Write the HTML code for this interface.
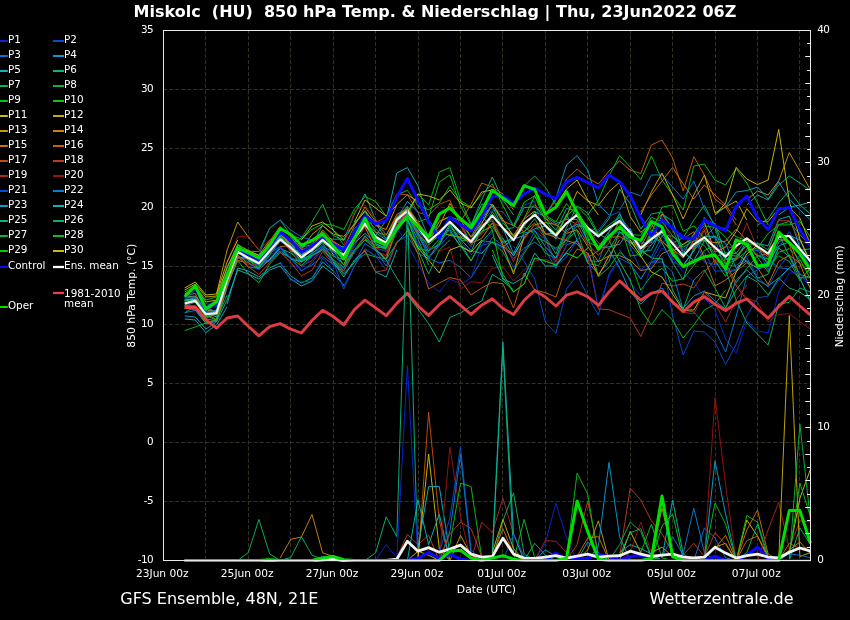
<!DOCTYPE html>
<html lang="de"><head><meta charset="utf-8"><title>Miskolc (HU) 850 hPa Temp. &amp; Niederschlag</title>
<style>html,body{margin:0;padding:0;background:#000;}body{width:850px;height:620px;overflow:hidden;}svg{display:block;}text{font-family:'DejaVu Sans','Liberation Sans',sans-serif;fill:#fff;}.tk{font-size:10.4px;}.yk{font-size:10.4px;letter-spacing:-0.6px;}.xk{font-size:10.65px;}.al{font-size:10.8px;}.ar{font-size:10.65px;}.lg{font-size:10.4px;}.big{font-size:16px;}.ttl{font-size:16px;font-weight:bold;}.m{fill:none;stroke-width:0.95;stroke-linejoin:round;}.p{fill:none;stroke-width:0.95;stroke-linejoin:round;}.th{fill:none;stroke-linejoin:round;stroke-linecap:butt;}.g{stroke:#313124;stroke-width:1;stroke-dasharray:4.05 1.99;fill:none;}</style></head><body>
<svg width="850" height="620" viewBox="0 0 850 620">
<rect x="0" y="0" width="850" height="620" fill="#000"/>
<g class="g">
<line x1="205.5" y1="30.5" x2="205.5" y2="560.5" stroke-dashoffset="0.7"/>
<line x1="248.5" y1="30.5" x2="248.5" y2="560.5" stroke-dashoffset="0.7"/>
<line x1="290.5" y1="30.5" x2="290.5" y2="560.5" stroke-dashoffset="0.7"/>
<line x1="333.5" y1="30.5" x2="333.5" y2="560.5" stroke-dashoffset="0.7"/>
<line x1="375.5" y1="30.5" x2="375.5" y2="560.5" stroke-dashoffset="0.7"/>
<line x1="418.5" y1="30.5" x2="418.5" y2="560.5" stroke-dashoffset="0.7"/>
<line x1="460.5" y1="30.5" x2="460.5" y2="560.5" stroke-dashoffset="0.7"/>
<line x1="502.5" y1="30.5" x2="502.5" y2="560.5" stroke-dashoffset="0.7"/>
<line x1="545.5" y1="30.5" x2="545.5" y2="560.5" stroke-dashoffset="0.7"/>
<line x1="587.5" y1="30.5" x2="587.5" y2="560.5" stroke-dashoffset="0.7"/>
<line x1="630.5" y1="30.5" x2="630.5" y2="560.5" stroke-dashoffset="0.7"/>
<line x1="672.5" y1="30.5" x2="672.5" y2="560.5" stroke-dashoffset="0.7"/>
<line x1="715.5" y1="30.5" x2="715.5" y2="560.5" stroke-dashoffset="0.7"/>
<line x1="757.5" y1="30.5" x2="757.5" y2="560.5" stroke-dashoffset="0.7"/>
<line x1="799.5" y1="30.5" x2="799.5" y2="560.5" stroke-dashoffset="0.7"/>
<line x1="163.5" y1="501.5" x2="810.5" y2="501.5" stroke-dashoffset="0.4"/>
<line x1="163.5" y1="442.5" x2="810.5" y2="442.5" stroke-dashoffset="0.4"/>
<line x1="163.5" y1="383.5" x2="810.5" y2="383.5" stroke-dashoffset="0.4"/>
<line x1="163.5" y1="324.5" x2="810.5" y2="324.5" stroke-dashoffset="0.4"/>
<line x1="163.5" y1="266.5" x2="810.5" y2="266.5" stroke-dashoffset="0.4"/>
<line x1="163.5" y1="207.5" x2="810.5" y2="207.5" stroke-dashoffset="0.4"/>
<line x1="163.5" y1="148.5" x2="810.5" y2="148.5" stroke-dashoffset="0.4"/>
<line x1="163.5" y1="89.5" x2="810.5" y2="89.5" stroke-dashoffset="0.4"/>
</g>
<g class="m">
<polyline stroke="#0a4cd1" points="184.7,300.5 195.3,296.9 205.9,307.1 216.5,306.8 227.1,275.1 237.7,251.4 248.3,253.6 258.9,254.9 269.6,246.1 280.2,236.8 290.8,251.5 301.4,264.9 312.0,256.2 322.6,244.5 333.2,265.2 343.8,268.3 354.4,246.4 365.0,225.2 375.6,238.7 386.2,245.7 396.8,220.6 407.4,211.3 418.0,228.7 428.6,248.4 439.3,245.9 449.9,235.3 460.5,232.4 471.1,247.0 481.7,222.5 492.3,209.9 502.9,211.9 513.5,226.3 524.1,205.2 534.7,201.0 545.3,241.8 555.9,249.7 566.5,243.6 577.1,221.0 587.7,231.1 598.4,245.7 609.0,235.7 619.6,231.9 630.2,243.5 640.8,248.2 651.4,245.1 662.0,228.6 672.6,261.7 683.2,266.5 693.8,261.3 704.4,252.5 715.0,271.0 725.6,270.9 736.2,269.3 746.8,257.5 757.5,276.8 768.1,287.0 778.7,267.4 789.3,254.5 799.9,273.5 810.5,287.9"/>
<polyline stroke="#0a72d1" points="184.7,312.8 195.3,310.3 205.9,323.1 216.5,321.3 227.1,287.7 237.7,257.2 248.3,259.4 258.9,263.1 269.6,252.9 280.2,246.7 290.8,257.7 301.4,270.6 312.0,264.9 322.6,256.3 333.2,264.6 343.8,272.6 354.4,262.7 365.0,243.6 375.6,250.5 386.2,266.0 396.8,241.6 407.4,235.7 418.0,253.5 428.6,258.4 439.3,262.9 449.9,260.3 460.5,267.6 471.1,277.8 481.7,260.3 492.3,237.2 502.9,245.7 513.5,258.5 524.1,248.2 534.7,242.2 545.3,249.9 555.9,268.3 566.5,245.0 577.1,240.7 587.7,260.5 598.4,261.8 609.0,232.6 619.6,215.8 630.2,229.9 640.8,251.1 651.4,257.1 662.0,236.1 672.6,247.3 683.2,265.6 693.8,250.6 704.4,217.0 715.0,238.1 725.6,272.9 736.2,270.2 746.8,248.9 757.5,250.5 768.1,259.2 778.7,267.7 789.3,268.9 799.9,278.0 810.5,302.5"/>
<polyline stroke="#0ab4be" points="184.7,301.2 195.3,297.7 205.9,313.6 216.5,316.8 227.1,285.2 237.7,258.1 248.3,257.9 258.9,261.0 269.6,247.0 280.2,234.1 290.8,245.9 301.4,254.9 312.0,251.4 322.6,242.2 333.2,250.2 343.8,257.4 354.4,243.3 365.0,233.4 375.6,243.7 386.2,248.8 396.8,218.3 407.4,220.0 418.0,244.6 428.6,258.1 439.3,245.2 449.9,226.1 460.5,239.1 471.1,250.6 481.7,253.4 492.3,241.8 502.9,246.9 513.5,239.1 524.1,235.5 534.7,228.8 545.3,226.0 555.9,239.2 566.5,214.1 577.1,240.1 587.7,262.4 598.4,273.9 609.0,261.2 619.6,231.2 630.2,242.2 640.8,243.1 651.4,242.7 662.0,214.1 672.6,221.0 683.2,251.8 693.8,260.6 704.4,241.0 715.0,236.3 725.6,258.6 736.2,258.9 746.8,241.1 757.5,243.5 768.1,245.9 778.7,219.5 789.3,216.1 799.9,247.5 810.5,269.6"/>
<polyline stroke="#0ab47c" points="184.7,312.8 195.3,306.2 205.9,318.4 216.5,313.0 227.1,274.0 237.7,249.0 248.3,260.3 258.9,268.3 269.6,260.4 280.2,248.7 290.8,253.0 301.4,262.5 312.0,252.8 322.6,237.6 333.2,239.2 343.8,239.2 354.4,224.0 365.0,211.6 375.6,223.3 386.2,238.9 396.8,217.3 407.4,211.9 418.0,234.8 428.6,243.9 439.3,221.5 449.9,217.0 460.5,223.5 471.1,243.0 481.7,231.4 492.3,226.2 502.9,243.1 513.5,237.0 524.1,226.3 534.7,211.8 545.3,216.4 555.9,223.6 566.5,219.5 577.1,219.4 587.7,241.2 598.4,232.2 609.0,218.5 619.6,189.3 630.2,203.6 640.8,229.1 651.4,214.0 662.0,212.0 672.6,229.2 683.2,254.2 693.8,234.0 704.4,219.6 715.0,223.8 725.6,255.0 736.2,256.0 746.8,245.6 757.5,254.9 768.1,262.1 778.7,246.1 789.3,241.7 799.9,250.3 810.5,248.8"/>
<polyline stroke="#0ab456" points="184.7,302.0 195.3,299.9 205.9,312.9 216.5,312.3 227.1,280.0 237.7,250.4 248.3,257.6 258.9,264.1 269.6,249.3 280.2,235.1 290.8,240.6 301.4,247.2 312.0,244.8 322.6,225.4 333.2,235.4 343.8,240.6 354.4,222.9 365.0,211.2 375.6,232.4 386.2,240.3 396.8,217.7 407.4,206.2 418.0,222.4 428.6,245.2 439.3,234.2 449.9,216.7 460.5,220.7 471.1,224.8 481.7,204.3 492.3,204.6 502.9,222.6 513.5,235.0 524.1,232.1 534.7,218.6 545.3,236.9 555.9,253.9 566.5,227.4 577.1,205.9 587.7,213.2 598.4,233.7 609.0,239.8 619.6,221.2 630.2,245.0 640.8,257.3 651.4,244.6 662.0,232.4 672.6,242.9 683.2,237.8 693.8,220.0 704.4,205.2 715.0,226.9 725.6,263.3 736.2,282.8 746.8,268.4 757.5,255.7 768.1,259.2 778.7,233.4 789.3,256.4 799.9,274.6 810.5,277.4"/>
<polyline stroke="#0ab439" points="184.7,303.4 195.3,299.3 205.9,312.2 216.5,311.5 227.1,278.5 237.7,249.8 248.3,257.0 258.9,260.4 269.6,245.2 280.2,240.0 290.8,249.8 301.4,261.2 312.0,246.7 322.6,236.4 333.2,249.9 343.8,249.9 354.4,239.4 365.0,222.9 375.6,238.4 386.2,243.9 396.8,222.4 407.4,220.5 418.0,232.8 428.6,257.7 439.3,242.0 449.9,224.2 460.5,240.1 471.1,241.3 481.7,225.3 492.3,220.6 502.9,242.2 513.5,239.2 524.1,227.1 534.7,234.2 545.3,253.3 555.9,258.3 566.5,238.5 577.1,226.0 587.7,227.6 598.4,234.1 609.0,224.8 619.6,217.4 630.2,241.8 640.8,254.8 651.4,230.0 662.0,235.3 672.6,236.1 683.2,245.3 693.8,234.5 704.4,225.9 715.0,227.4 725.6,237.4 736.2,253.3 746.8,238.8 757.5,245.9 768.1,265.9 778.7,255.9 789.3,261.3 799.9,280.7 810.5,268.1"/>
<polyline stroke="#0ac80a" points="184.7,300.8 195.3,302.2 205.9,316.7 216.5,314.6 227.1,281.0 237.7,252.5 248.3,259.5 258.9,267.0 269.6,253.1 280.2,238.1 290.8,243.4 301.4,258.0 312.0,255.8 322.6,249.6 333.2,261.8 343.8,270.6 354.4,252.2 365.0,239.6 375.6,245.3 386.2,249.5 396.8,221.6 407.4,216.7 418.0,228.1 428.6,242.7 439.3,236.1 449.9,234.1 460.5,238.1 471.1,240.1 481.7,232.5 492.3,211.5 502.9,227.9 513.5,235.7 524.1,218.7 534.7,195.8 545.3,215.0 555.9,222.0 566.5,203.6 577.1,216.4 587.7,236.0 598.4,276.7 609.0,267.5 619.6,252.4 630.2,261.3 640.8,290.2 651.4,275.5 662.0,268.3 672.6,281.3 683.2,278.7 693.8,265.6 704.4,250.5 715.0,245.5 725.6,264.4 736.2,259.8 746.8,251.2 757.5,247.9 768.1,233.6 778.7,224.9 789.3,224.9 799.9,221.6 810.5,237.2"/>
<polyline stroke="#c8ab0a" points="184.7,296.7 195.3,296.1 205.9,310.6 216.5,310.5 227.1,273.6 237.7,245.2 248.3,250.3 258.9,255.6 269.6,245.1 280.2,236.3 290.8,251.4 301.4,250.4 312.0,245.2 322.6,234.8 333.2,254.9 343.8,264.9 354.4,238.8 365.0,226.2 375.6,236.1 386.2,247.9 396.8,218.3 407.4,208.7 418.0,223.6 428.6,238.7 439.3,226.0 449.9,203.5 460.5,219.6 471.1,237.4 481.7,223.6 492.3,204.1 502.9,219.3 513.5,237.0 524.1,219.1 534.7,211.0 545.3,234.1 555.9,233.3 566.5,216.4 577.1,191.4 587.7,200.9 598.4,205.5 609.0,191.6 619.6,182.3 630.2,216.6 640.8,232.4 651.4,223.8 662.0,241.3 672.6,251.6 683.2,244.1 693.8,238.6 704.4,222.4 715.0,252.1 725.6,247.2 736.2,231.5 746.8,208.7 757.5,221.8 768.1,221.7 778.7,208.5 789.3,207.7 799.9,218.0 810.5,244.7"/>
<polyline stroke="#c8850a" points="184.7,305.4 195.3,299.5 205.9,313.8 216.5,319.5 227.1,284.1 237.7,253.4 248.3,257.1 258.9,258.7 269.6,243.3 280.2,231.6 290.8,246.6 301.4,256.4 312.0,246.8 322.6,230.0 333.2,241.2 343.8,248.0 354.4,225.8 365.0,207.0 375.6,221.6 386.2,235.1 396.8,216.6 407.4,209.1 418.0,222.9 428.6,240.7 439.3,231.6 449.9,235.6 460.5,237.0 471.1,243.1 481.7,238.5 492.3,223.0 502.9,245.5 513.5,255.3 524.1,237.9 534.7,224.7 545.3,222.6 555.9,224.5 566.5,233.4 577.1,229.6 587.7,246.5 598.4,261.7 609.0,255.8 619.6,255.6 630.2,260.2 640.8,270.5 651.4,268.7 662.0,253.7 672.6,248.8 683.2,258.0 693.8,240.5 704.4,240.8 715.0,242.7 725.6,241.2 736.2,229.1 746.8,240.6 757.5,247.8 768.1,256.7 778.7,239.5 789.3,241.7 799.9,263.9 810.5,289.2"/>
<polyline stroke="#c8720a" points="184.7,295.7 195.3,293.4 205.9,314.6 216.5,313.1 227.1,285.6 237.7,260.6 248.3,262.7 258.9,269.4 269.6,259.5 280.2,246.7 290.8,245.5 301.4,254.3 312.0,246.6 322.6,232.5 333.2,251.3 343.8,256.5 354.4,238.1 365.0,222.6 375.6,232.1 386.2,235.2 396.8,214.3 407.4,208.5 418.0,222.0 428.6,238.3 439.3,221.3 449.9,216.4 460.5,223.7 471.1,236.6 481.7,218.0 492.3,204.3 502.9,221.0 513.5,225.6 524.1,231.7 534.7,223.2 545.3,233.6 555.9,237.5 566.5,240.5 577.1,243.8 587.7,257.6 598.4,250.8 609.0,237.2 619.6,236.7 630.2,242.6 640.8,246.7 651.4,226.7 662.0,214.0 672.6,230.3 683.2,239.1 693.8,231.7 704.4,258.1 715.0,285.8 725.6,280.1 736.2,271.3 746.8,262.7 757.5,267.4 768.1,284.5 778.7,261.4 789.3,255.3 799.9,263.2 810.5,274.0"/>
<polyline stroke="#c84c0a" points="184.7,305.8 195.3,301.7 205.9,312.7 216.5,314.2 227.1,281.3 237.7,256.4 248.3,262.0 258.9,260.3 269.6,250.2 280.2,239.6 290.8,250.1 301.4,254.5 312.0,247.7 322.6,235.1 333.2,241.9 343.8,250.7 354.4,236.5 365.0,217.8 375.6,222.6 386.2,216.9 396.8,193.9 407.4,194.8 418.0,212.3 428.6,215.5 439.3,204.2 449.9,200.1 460.5,225.6 471.1,244.6 481.7,233.8 492.3,223.1 502.9,227.1 513.5,236.5 524.1,218.1 534.7,204.5 545.3,217.8 555.9,226.0 566.5,218.7 577.1,224.5 587.7,244.1 598.4,255.3 609.0,243.0 619.6,220.2 630.2,231.5 640.8,253.9 651.4,234.2 662.0,241.4 672.6,249.7 683.2,266.0 693.8,250.5 704.4,230.2 715.0,264.3 725.6,259.6 736.2,259.1 746.8,244.7 757.5,255.7 768.1,253.9 778.7,233.4 789.3,244.0 799.9,277.6 810.5,277.7"/>
<polyline stroke="#ab2626" points="184.7,301.8 195.3,301.5 205.9,312.6 216.5,313.5 227.1,281.3 237.7,257.5 248.3,264.5 258.9,265.1 269.6,255.2 280.2,239.1 290.8,250.6 301.4,266.3 312.0,260.6 322.6,247.4 333.2,261.6 343.8,267.6 354.4,243.6 365.0,227.0 375.6,247.8 386.2,251.5 396.8,228.8 407.4,217.2 418.0,222.2 428.6,235.5 439.3,230.0 449.9,221.6 460.5,232.0 471.1,226.9 481.7,224.6 492.3,219.0 502.9,239.8 513.5,261.7 524.1,239.5 534.7,225.0 545.3,238.1 555.9,261.9 566.5,232.5 577.1,221.7 587.7,228.3 598.4,242.9 609.0,248.9 619.6,237.5 630.2,235.6 640.8,252.7 651.4,240.8 662.0,217.7 672.6,242.3 683.2,250.3 693.8,248.0 704.4,227.6 715.0,251.9 725.6,246.1 736.2,249.2 746.8,222.9 757.5,248.9 768.1,253.0 778.7,220.6 789.3,220.7 799.9,240.6 810.5,244.6"/>
<polyline stroke="#0a4cd1" points="184.7,300.7 195.3,289.9 205.9,303.6 216.5,305.2 227.1,273.0 237.7,249.2 248.3,253.4 258.9,268.2 269.6,258.4 280.2,247.2 290.8,258.7 301.4,271.2 312.0,262.8 322.6,248.8 333.2,261.9 343.8,268.8 354.4,241.2 365.0,220.7 375.6,236.7 386.2,243.6 396.8,222.3 407.4,216.9 418.0,232.8 428.6,257.7 439.3,243.0 449.9,228.5 460.5,241.0 471.1,254.7 481.7,245.4 492.3,242.5 502.9,248.2 513.5,267.5 524.1,251.5 534.7,231.2 545.3,239.1 555.9,265.7 566.5,257.1 577.1,240.5 587.7,228.6 598.4,230.2 609.0,216.1 619.6,211.7 630.2,247.8 640.8,269.7 651.4,261.3 662.0,241.3 672.6,239.8 683.2,250.7 693.8,235.3 704.4,262.2 715.0,264.7 725.6,265.2 736.2,265.6 746.8,256.4 757.5,249.0 768.1,270.0 778.7,247.8 789.3,231.6 799.9,249.0 810.5,266.8"/>
<polyline stroke="#0aa2c8" points="184.7,304.2 195.3,299.1 205.9,306.9 216.5,300.2 227.1,267.1 237.7,244.6 248.3,255.0 258.9,265.6 269.6,260.0 280.2,247.6 290.8,259.1 301.4,261.7 312.0,256.8 322.6,248.0 333.2,256.2 343.8,259.7 354.4,237.1 365.0,223.7 375.6,243.9 386.2,247.6 396.8,227.5 407.4,214.0 418.0,231.2 428.6,240.1 439.3,234.1 449.9,222.2 460.5,235.7 471.1,240.8 481.7,219.1 492.3,206.0 502.9,228.2 513.5,253.4 524.1,233.0 534.7,230.6 545.3,246.6 555.9,258.0 566.5,230.0 577.1,224.4 587.7,228.0 598.4,248.3 609.0,246.7 619.6,244.3 630.2,228.3 640.8,251.9 651.4,250.1 662.0,228.4 672.6,252.2 683.2,264.9 693.8,251.0 704.4,236.4 715.0,236.4 725.6,243.4 736.2,268.3 746.8,260.6 757.5,268.5 768.1,266.6 778.7,242.1 789.3,235.5 799.9,239.9 810.5,263.7"/>
<polyline stroke="#0ab47c" points="184.7,299.0 195.3,299.7 205.9,313.1 216.5,314.2 227.1,280.3 237.7,249.8 248.3,260.4 258.9,264.0 269.6,251.3 280.2,236.3 290.8,246.1 301.4,254.6 312.0,248.7 322.6,240.6 333.2,246.9 343.8,246.8 354.4,233.3 365.0,224.4 375.6,241.5 386.2,241.2 396.8,222.4 407.4,215.8 418.0,233.0 428.6,251.0 439.3,239.2 449.9,229.8 460.5,246.8 471.1,251.5 481.7,226.8 492.3,214.7 502.9,229.5 513.5,227.7 524.1,207.6 534.7,206.7 545.3,218.0 555.9,230.4 566.5,208.5 577.1,210.9 587.7,241.6 598.4,247.3 609.0,231.4 619.6,213.6 630.2,235.9 640.8,253.4 651.4,236.1 662.0,242.8 672.6,262.7 683.2,279.8 693.8,247.1 704.4,239.7 715.0,257.2 725.6,252.9 736.2,253.6 746.8,261.3 757.5,278.2 768.1,274.3 778.7,247.9 789.3,256.8 799.9,278.5 810.5,300.9"/>
<polyline stroke="#0ab439" points="184.7,308.0 195.3,299.6 205.9,315.3 216.5,320.4 227.1,284.9 237.7,255.1 248.3,263.2 258.9,269.3 269.6,251.3 280.2,236.8 290.8,241.3 301.4,259.7 312.0,248.9 322.6,242.7 333.2,260.4 343.8,274.4 354.4,262.6 365.0,253.8 375.6,256.9 386.2,258.9 396.8,229.9 407.4,217.9 418.0,248.7 428.6,250.8 439.3,244.2 449.9,223.6 460.5,243.4 471.1,260.5 481.7,240.7 492.3,242.3 502.9,252.0 513.5,271.5 524.1,253.4 534.7,236.6 545.3,241.5 555.9,248.3 566.5,240.0 577.1,230.5 587.7,263.4 598.4,265.6 609.0,249.0 619.6,232.3 630.2,234.5 640.8,235.3 651.4,217.2 662.0,221.8 672.6,235.8 683.2,247.2 693.8,240.6 704.4,245.5 715.0,260.9 725.6,276.4 736.2,256.7 746.8,244.7 757.5,243.3 768.1,249.9 778.7,224.6 789.3,221.5 799.9,234.6 810.5,246.4"/>
<polyline stroke="#0ac80a" points="184.7,305.9 195.3,302.0 205.9,312.3 216.5,311.9 227.1,275.0 237.7,244.2 248.3,251.4 258.9,251.4 269.6,228.4 280.2,220.1 290.8,235.0 301.4,239.1 312.0,229.4 322.6,223.8 333.2,225.3 343.8,229.5 354.4,209.2 365.0,196.5 375.6,201.5 386.2,216.3 396.8,195.1 407.4,190.3 418.0,205.8 428.6,209.7 439.3,202.8 449.9,186.0 460.5,200.6 471.1,207.0 481.7,194.4 492.3,184.0 502.9,205.5 513.5,226.0 524.1,202.3 534.7,195.7 545.3,220.7 555.9,235.0 566.5,215.9 577.1,206.7 587.7,217.1 598.4,235.2 609.0,226.7 619.6,223.1 630.2,256.0 640.8,254.4 651.4,233.1 662.0,207.3 672.6,205.0 683.2,231.3 693.8,225.8 704.4,238.4 715.0,226.6 725.6,228.7 736.2,236.7 746.8,240.8 757.5,257.4 768.1,271.9 778.7,252.2 789.3,248.6 799.9,259.6 810.5,278.9"/>
<polyline stroke="#0a26d1" points="184.7,306.8 195.3,300.6 205.9,311.9 216.5,312.7 227.1,278.4 237.7,250.3 248.3,263.8 258.9,270.0 269.6,255.6 280.2,247.6 290.8,264.6 301.4,268.3 312.0,256.9 322.6,246.8 333.2,252.4 343.8,268.7 354.4,253.2 365.0,235.1 375.6,249.7 386.2,250.2 396.8,223.1 407.4,214.4 418.0,244.4 428.6,243.7"/>
<polyline stroke="#0a98d1" points="184.7,307.6 195.3,309.9 205.9,323.3 216.5,321.5 227.1,287.1 237.7,256.1 248.3,267.6 258.9,268.0 269.6,255.0 280.2,241.2 290.8,246.6 301.4,247.8 312.0,239.9 322.6,231.9 333.2,243.1 343.8,254.3 354.4,237.3 365.0,220.1 375.6,235.8 386.2,246.5 396.8,218.6 407.4,201.4 418.0,212.5 428.6,237.1"/>
<polyline stroke="#0abe1c" points="184.7,308.5 195.3,307.5 205.9,323.5 216.5,319.2 227.1,284.4 237.7,260.6 248.3,273.9 258.9,282.9 269.6,264.2 280.2,252.7 290.8,257.8 301.4,266.1 312.0,254.6 322.6,241.7 333.2,250.4 343.8,264.7 354.4,250.0 365.0,236.0 375.6,247.4 386.2,247.8 396.8,222.4 407.4,219.9 418.0,238.9 428.6,264.8"/>
<polyline stroke="#c8980a" points="184.7,300.2 195.3,299.2 205.9,307.9 216.5,311.9 227.1,276.5 237.7,249.1 248.3,251.0 258.9,255.2 269.6,240.3 280.2,234.1 290.8,244.2 301.4,249.4 312.0,234.5 322.6,225.7 333.2,234.1 343.8,236.4 354.4,224.5 365.0,210.4 375.6,225.4 386.2,229.6 396.8,204.7 407.4,194.6 418.0,202.0 428.6,224.1"/>
<polyline stroke="#c85f0a" points="184.7,305.7 195.3,305.9 205.9,319.0 216.5,320.7 227.1,285.6 237.7,257.1 248.3,258.2 258.9,260.0 269.6,241.0 280.2,226.5 290.8,237.3 301.4,249.6 312.0,247.2 322.6,237.5 333.2,241.8 343.8,250.1 354.4,232.4 365.0,226.9 375.6,249.3 386.2,258.6 396.8,226.3 407.4,212.4 418.0,227.8 428.6,237.3"/>
<polyline stroke="#be391c" points="184.7,308.3 195.3,305.7 205.9,315.9 216.5,312.3 227.1,278.4 237.7,255.2 248.3,266.5 258.9,274.5 269.6,262.5 280.2,252.3 290.8,262.2 301.4,275.9 312.0,270.3 322.6,251.6 333.2,264.3 343.8,270.9 354.4,250.4 365.0,237.5 375.6,250.9 386.2,255.6 396.8,221.9 407.4,213.6 418.0,232.7 428.6,247.5"/>
<polyline stroke="#0a7cd1" points="184.7,298.0 195.3,296.7 205.9,311.8 216.5,310.1 227.1,274.7 237.7,249.3 248.3,254.6 258.9,260.9 269.6,260.9 280.2,251.0 290.8,258.4 301.4,260.7 312.0,253.3 322.6,246.4 333.2,251.8 343.8,256.7 354.4,228.6 365.0,218.2 375.6,228.8 386.2,239.9 396.8,225.3 407.4,214.9 418.0,236.3 428.6,252.5"/>
<polyline stroke="#0ab45f" points="184.7,300.1 195.3,301.6 205.9,317.2 216.5,312.9 227.1,281.8 237.7,251.5 248.3,252.6 258.9,262.7 269.6,245.7 280.2,239.0 290.8,248.1 301.4,261.4 312.0,255.4 322.6,249.9 333.2,259.6 343.8,267.2 354.4,250.3 365.0,240.0 375.6,249.0 386.2,259.3 396.8,243.1 407.4,230.9 418.0,246.6 428.6,256.3"/>
<polyline stroke="#c8980a" points="216.5,294.0 227.1,250.0 237.7,222.0 248.3,237.0 258.9,250.0"/>
<polyline stroke="#981313" points="227.1,262.0 237.7,237.0 248.3,236.0 258.9,250.0 269.6,240.0"/>
<polyline stroke="#0a72d1" points="258.9,255.0 269.6,228.0 280.2,220.0 290.8,230.0 301.4,237.0 312.0,240.0"/>
<polyline stroke="#0ab439" points="290.8,245.0 301.4,238.0 312.0,222.0 322.6,204.0 333.2,230.0 343.8,245.0"/>
<polyline stroke="#c8be0a" points="301.4,240.0 312.0,226.0 322.6,222.0 333.2,230.0 343.8,240.0"/>
<polyline stroke="#0ab4be" points="227.1,300.0 237.7,270.0 248.3,274.0 258.9,279.0 269.6,270.0 280.2,266.0 290.8,279.0 301.4,286.0 312.0,281.0 322.6,266.0 333.2,274.0 343.8,285.0"/>
<polyline stroke="#0ab4b4" points="227.1,304.0 237.7,268.0 248.3,271.0 258.9,277.0 269.6,268.0 280.2,263.0 290.8,276.0 301.4,283.0 312.0,278.0 322.6,262.0 333.2,271.0"/>
<polyline stroke="#0a4cd1" points="280.2,262.0 290.8,280.0 301.4,282.0 312.0,281.0 322.6,258.0 333.2,270.0 343.8,286.0 354.4,266.0 365.0,249.0 375.6,256.0 386.2,262.0"/>
<polyline stroke="#0abe1c" points="184.7,330.6 195.3,327.0 205.9,323.0 216.5,320.0 227.1,295.0"/>
<polyline stroke="#0ab4b4" points="184.7,319.0 195.3,320.0 205.9,332.6 216.5,324.8 227.1,307.0"/>
<polyline stroke="#0aa2c8" points="184.7,316.0 195.3,317.0 205.9,329.0 216.5,322.0 227.1,300.0"/>
<polyline stroke="#c8be0a" points="184.7,288.0 195.3,282.0 205.9,295.0 216.5,294.0 227.1,262.0 237.7,240.0"/>
<polyline stroke="#c8ab0a" points="184.7,290.0 195.3,284.0 205.9,297.0 216.5,296.0 227.1,268.0 237.7,246.0"/>
<polyline stroke="#0ac80a" points="184.7,292.0 195.3,286.0 205.9,300.0 216.5,297.0 227.1,272.0 237.7,250.0"/>
<polyline stroke="#c8be0a" points="184.7,294.0 195.3,287.0 205.9,302.0 216.5,300.0 227.1,276.0 237.7,252.0"/>
<polyline stroke="#0ab4be" points="375.6,236.0 386.2,220.0 396.8,173.0 407.4,167.6 418.0,186.0 428.6,220.0 439.3,235.0"/>
<polyline stroke="#0abe1c" points="407.4,215.0 418.0,194.0 428.6,205.0 439.3,172.0 449.9,167.6 460.5,200.0 471.1,224.0"/>
<polyline stroke="#0abe1c" points="418.0,222.0 428.6,218.0 439.3,182.0 449.9,175.0 460.5,206.0 471.1,225.0"/>
<polyline stroke="#c8be0a" points="407.4,212.0 418.0,194.0 428.6,196.0 439.3,200.0 449.9,190.0 460.5,203.0 471.1,208.0 481.7,192.0 492.3,190.0 502.9,200.0"/>
<polyline stroke="#c85f0a" points="460.5,222.0 471.1,204.0 481.7,183.0 492.3,187.0 502.9,194.0 513.5,210.0"/>
<polyline stroke="#0ab47c" points="471.1,225.0 481.7,200.0 492.3,177.0 502.9,200.0 513.5,215.0"/>
<polyline stroke="#0ab47c" points="343.8,240.0 354.4,214.0 365.0,194.0 375.6,220.0 386.2,235.0"/>
<polyline stroke="#c8be0a" points="354.4,222.0 365.0,200.0 375.6,208.0 386.2,216.0 396.8,205.0"/>
<polyline stroke="#981313" points="343.8,245.0 354.4,211.0 365.0,205.0 375.6,219.0 386.2,236.0"/>
<polyline stroke="#0ab47c" points="375.6,250.0 386.2,260.0 396.8,278.0 407.4,295.0 418.0,309.0 428.6,323.6 439.3,342.0 449.9,317.4 460.5,313.0 471.1,306.0 481.7,301.0 492.3,274.4 502.9,281.0 513.5,290.0"/>
<polyline stroke="#0a26d1" points="396.8,228.0 407.4,244.0 418.0,264.0 428.6,283.0 439.3,292.0 449.9,279.0 460.5,284.0 471.1,278.0 481.7,246.0 492.3,232.0"/>
<polyline stroke="#c85f0a" points="407.4,230.0 418.0,254.0 428.6,289.0 439.3,283.0 449.9,277.6 460.5,280.0 471.1,295.0 481.7,288.0 492.3,282.4 502.9,283.6 513.5,308.0 524.1,273.0 534.7,290.0 545.3,292.6 555.9,297.0 566.5,266.0 577.1,249.0 587.7,253.0 598.4,276.0 609.0,256.0"/>
<polyline stroke="#981313" points="428.6,246.0 439.3,251.0 449.9,247.0 460.5,289.0 471.1,281.6 481.7,283.0 492.3,268.0 502.9,267.0 513.5,281.0 524.1,270.0 534.7,261.0 545.3,259.0 555.9,264.0 566.5,246.0"/>
<polyline stroke="#c8be0a" points="407.4,228.0 418.0,248.0 428.6,260.0 439.3,273.0 449.9,250.0 460.5,246.0 471.1,252.0 481.7,240.0"/>
<polyline stroke="#0ab45f" points="407.4,226.0 418.0,250.0 428.6,274.0 439.3,250.0 449.9,240.0"/>
<polyline stroke="#0ab47c" points="449.9,232.0 460.5,246.0 471.1,261.0 481.7,242.0 492.3,230.0"/>
<polyline stroke="#0ac80a" points="481.7,215.0 492.3,230.0 502.9,278.0 513.5,292.0 524.1,284.0 534.7,258.0 545.3,261.0 555.9,265.0 566.5,253.0 577.1,258.0 587.7,248.0"/>
<polyline stroke="#0a4cd1" points="333.2,262.0 343.8,289.0 354.4,266.0 365.0,249.0 375.6,256.0 386.2,270.0"/>
<polyline stroke="#0ab4b4" points="333.2,262.0 343.8,277.0 354.4,260.0 365.0,251.0 375.6,272.0 386.2,277.0 396.8,250.0"/>
<polyline stroke="#be391c" points="354.4,262.0 365.0,250.0 375.6,272.0 386.2,270.0 396.8,242.0"/>
<polyline stroke="#0a98d1" points="545.3,215.0 555.9,198.0 566.5,165.0 577.1,155.6 587.7,170.0 598.4,204.0 609.0,215.0"/>
<polyline stroke="#c85f0a" points="545.3,215.0 555.9,200.0 566.5,179.0 577.1,169.0 587.7,178.0 598.4,184.0 609.0,171.0 619.6,161.0 630.2,170.0 640.8,173.6 651.4,145.0 662.0,140.0 672.6,158.0 683.2,191.0 693.8,156.6 704.4,175.0 715.0,199.0 725.6,207.0 736.2,225.0"/>
<polyline stroke="#0abe1c" points="587.7,215.0 598.4,200.0 609.0,176.0 619.6,155.6 630.2,167.0 640.8,179.6 651.4,156.0 662.0,180.0 672.6,195.0 683.2,210.0 693.8,166.0 704.4,164.0 715.0,180.0 725.6,185.0 736.2,168.6 746.8,183.0 757.5,203.0 768.1,225.0"/>
<polyline stroke="#0a7cd1" points="619.6,210.0 630.2,192.0 640.8,196.0 651.4,175.0 662.0,175.0 672.6,187.0 683.2,199.0 693.8,181.0 704.4,209.0 715.0,225.0"/>
<polyline stroke="#c8be0a" points="555.9,205.0 566.5,189.0 577.1,180.0 587.7,200.0 598.4,215.0"/>
<polyline stroke="#0ab456" points="513.5,205.0 524.1,186.0 534.7,176.0 545.3,187.0 555.9,205.0"/>
<polyline stroke="#c8ab0a" points="640.8,215.0 651.4,192.0 662.0,173.0 672.6,195.0 683.2,219.0 693.8,195.0 704.4,175.0 715.0,213.0 725.6,207.0 736.2,201.0 746.8,220.0"/>
<polyline stroke="#c8720a" points="640.8,212.0 651.4,195.0 662.0,181.0 672.6,167.4 683.2,184.0 693.8,199.0 704.4,185.0 715.0,195.0 725.6,205.0 736.2,220.0"/>
<polyline stroke="#0a4cd1" points="513.5,246.0 524.1,261.0 534.7,279.0 545.3,322.0 555.9,333.4 566.5,289.0 577.1,275.0 587.7,296.0 598.4,315.0 609.0,274.0 619.6,258.0 630.2,264.0 640.8,279.0 651.4,262.0 662.0,258.0 672.6,316.0 683.2,355.0 693.8,331.0 704.4,332.0 715.0,342.0 725.6,364.6 736.2,344.0 746.8,316.0 757.5,298.0 768.1,296.0 778.7,280.0 789.3,268.0 799.9,255.0"/>
<polyline stroke="#0abe1c" points="492.3,250.0 502.9,274.0 513.5,292.0 524.1,284.0 534.7,258.0 545.3,261.0 555.9,265.0 566.5,253.0 577.1,258.0 587.7,248.0"/>
<polyline stroke="#0ab4be" points="492.3,255.0 502.9,279.0 513.5,283.6 524.1,277.0 534.7,253.0 545.3,266.0 555.9,266.0 566.5,252.0 577.1,240.0"/>
<polyline stroke="#be391c" points="577.1,240.0 587.7,256.0 598.4,309.0 609.0,309.6 619.6,314.0 630.2,318.0 640.8,336.6 651.4,312.0 662.0,283.0 672.6,286.0 683.2,284.0 693.8,288.0 704.4,272.0 715.0,260.0 725.6,266.0 736.2,286.0 746.8,300.0"/>
<polyline stroke="#0a26d1" points="587.7,252.0 598.4,308.0 609.0,276.0 619.6,260.0 630.2,282.0 640.8,296.0 651.4,266.0 662.0,248.0 672.6,258.0 683.2,272.0 693.8,282.0 704.4,298.0 715.0,310.0 725.6,339.0 736.2,353.0 746.8,321.0 757.5,331.0 768.1,333.0 778.7,292.0 789.3,273.0 799.9,273.0 810.5,285.0"/>
<polyline stroke="#0abe1c" points="609.0,240.0 619.6,262.0 630.2,280.0 640.8,310.0 651.4,325.0 662.0,309.6 672.6,320.0 683.2,338.0 693.8,325.0 704.4,310.0 715.0,304.0 725.6,290.0"/>
<polyline stroke="#0a98d1" points="609.0,250.0 619.6,268.0 630.2,292.0 640.8,304.0 651.4,294.0 662.0,288.0 672.6,302.0 683.2,308.0 693.8,296.0 704.4,291.0 715.0,301.0 725.6,309.0 736.2,280.0 746.8,270.0 757.5,280.0 768.1,286.0 778.7,278.0 789.3,268.0 799.9,260.0"/>
<polyline stroke="#0a72d1" points="619.6,250.0 630.2,264.0 640.8,279.0 651.4,262.0 662.0,262.0 672.6,272.0 683.2,310.0 693.8,312.0 704.4,324.0 715.0,330.0 725.6,352.0 736.2,316.0 746.8,276.0 757.5,270.0 768.1,262.0"/>
<polyline stroke="#c8be0a" points="630.2,240.0 640.8,256.0 651.4,272.0 662.0,277.0 672.6,294.0 683.2,310.0 693.8,310.0 704.4,292.0 715.0,295.0 725.6,298.0 736.2,272.0 746.8,254.0 757.5,245.0"/>
<polyline stroke="#c8850a" points="587.7,253.0 598.4,276.0 609.0,256.0 619.6,240.0"/>
<polyline stroke="#0ab4b4" points="502.9,238.0 513.5,256.0 524.1,238.0"/>
<polyline stroke="#c8980a" points="502.9,246.0 513.5,274.0 524.1,236.0"/>
<polyline stroke="#c8be0a" points="715.0,215.0 725.6,203.0 736.2,167.4 746.8,179.0 757.5,184.6 768.1,180.0 778.7,129.4 789.3,201.0 799.9,239.0 810.5,262.0"/>
<polyline stroke="#c8980a" points="746.8,200.0 757.5,191.0 768.1,195.0 778.7,181.0 789.3,152.6 799.9,171.0 810.5,190.0"/>
<polyline stroke="#0ab47c" points="746.8,205.0 757.5,195.0 768.1,200.0 778.7,185.0 789.3,176.0 799.9,183.0 810.5,190.6"/>
<polyline stroke="#0aa2c8" points="715.0,215.0 725.6,207.0 736.2,192.0 746.8,190.6 757.5,187.0 768.1,199.0 778.7,182.0 789.3,199.0 799.9,210.0 810.5,220.0"/>
<polyline stroke="#0ab47c" points="757.5,225.0 768.1,219.0 778.7,203.0 789.3,190.6 799.9,205.0 810.5,214.0"/>
<polyline stroke="#0ab4b4" points="778.7,215.0 789.3,207.0 799.9,205.0 810.5,202.0"/>
<polyline stroke="#0ab456" points="704.4,240.0 715.0,254.0 725.6,270.0 736.2,300.0 746.8,323.0 757.5,334.0 768.1,345.0 778.7,304.0 789.3,302.4 799.9,288.0 810.5,292.0"/>
<polyline stroke="#981313" points="725.6,265.0 736.2,284.0 746.8,298.0 757.5,302.0 768.1,322.0 778.7,314.4 789.3,313.6 799.9,322.0 810.5,329.0"/>
<polyline stroke="#0ab45f" points="640.8,250.0 651.4,258.0 662.0,259.0 672.6,290.0 683.2,309.0 693.8,280.0 704.4,270.0 715.0,288.0 725.6,308.0 736.2,290.0 746.8,276.0 757.5,282.0 768.1,295.0 778.7,278.0 789.3,288.0 799.9,292.0 810.5,300.0"/>
<polyline stroke="#ab2626" points="672.6,300.0 683.2,312.0 693.8,314.0 704.4,292.0 715.0,304.0 725.6,322.0 736.2,300.0 746.8,285.0"/>
</g>
<g class="th">
<polyline stroke="#f04046" stroke-width="2.9" stroke-opacity="0.93" points="184.7,307.5 195.3,307.5 205.9,319.8 216.5,328.2 227.1,318.0 237.7,316.0 248.3,326.2 258.9,335.9 269.6,326.7 280.2,323.6 290.8,329.2 301.4,333.0 312.0,320.5 322.6,310.3 333.2,316.5 343.8,324.9 354.4,309.6 365.0,300.1 375.6,307.8 386.2,315.7 396.8,303.4 407.4,293.2 418.0,306.0 428.6,315.4 439.3,304.7 449.9,296.5 460.5,305.4 471.1,314.4 481.7,305.2 492.3,298.8 502.9,308.5 513.5,314.6 524.1,300.3 534.7,290.6 545.3,297.0 555.9,306.0 566.5,295.2 577.1,291.9 587.7,296.7 598.4,305.4 609.0,291.9 619.6,280.9 630.2,290.6 640.8,300.3 651.4,293.2 662.0,291.1 672.6,302.1 683.2,311.8 693.8,302.1 704.4,296.6 715.0,304.3 725.6,310.5 736.2,303.2 746.8,299.0 757.5,309.0 768.1,318.2 778.7,306.4 789.3,296.4 799.9,306.0 810.5,315.2"/>
<polyline stroke="#0a0aff" stroke-width="3.0" points="184.7,297.5 195.3,287.0 205.9,310.0 216.5,303.0 227.1,277.0 237.7,249.5 248.3,254.5 258.9,260.0 269.6,246.5 280.2,232.0 290.8,240.6 301.4,252.0 312.0,246.0 322.6,238.3 333.2,244.4 343.8,249.8 354.4,232.0 365.0,216.0 375.6,223.7 386.2,220.6 396.8,197.0 407.4,178.6 418.0,200.3 428.6,221.7 439.3,238.6 449.9,217.1 460.5,224.8 471.1,230.9 481.7,217.1 492.3,196.4 502.9,195.7 513.5,203.3 524.1,194.1 534.7,188.0 545.3,194.1 555.9,198.7 566.5,181.9 577.1,177.3 587.7,182.6 598.4,188.0 609.0,175.0 619.6,181.9 630.2,195.7 640.8,217.8 651.4,236.0 662.0,219.9 672.6,228.3 683.2,237.5 693.8,239.0 704.4,219.9 715.0,226.0 725.6,230.6 736.2,206.4 746.8,196.1 757.5,218.0 768.1,229.5 778.7,209.1 789.3,207.6 799.9,229.8 810.5,245.9"/>
<polyline stroke="#f0f0f0" stroke-width="2.2" points="184.7,303.5 195.3,300.9 205.9,314.2 216.5,313.1 227.1,279.5 237.7,251.8 248.3,258.0 258.9,263.3 269.6,251.0 280.2,239.3 290.8,247.7 301.4,257.4 312.0,249.8 322.6,239.8 333.2,249.0 343.8,255.1 354.4,238.3 365.0,223.7 375.6,236.7 386.2,242.9 396.8,219.9 407.4,210.8 418.0,226.3 428.6,241.7 439.3,232.5 449.9,221.7 460.5,232.5 471.1,241.7 481.7,227.9 492.3,215.6 502.9,227.9 513.5,240.1 524.1,223.3 534.7,214.8 545.3,225.6 555.9,235.5 566.5,223.3 577.1,214.8 587.7,227.9 598.4,236.3 609.0,227.9 619.6,221.0 630.2,232.5 640.8,248.4 651.4,239.0 662.0,231.4 672.6,243.6 683.2,255.9 693.8,244.4 704.4,237.5 715.0,247.5 725.6,256.7 736.2,245.9 746.8,238.3 757.5,246.3 768.1,253.6 778.7,236.7 789.3,236.0 799.9,249.0 810.5,261.3"/>
<polyline stroke="#00e000" stroke-width="3.0" points="184.7,296.7 195.3,285.6 205.9,309.3 216.5,301.7 227.1,275.6 237.7,248.0 248.3,252.6 258.9,258.0 269.6,245.0 280.2,228.5 290.8,234.6 301.4,245.2 312.0,240.6 322.6,233.7 333.2,245.9 343.8,259.0 354.4,238.3 365.0,218.3 375.6,240.6 386.2,245.2 396.8,229.0 407.4,216.0 418.0,226.3 428.6,237.0 439.3,214.0 449.9,207.9 460.5,218.7 471.1,227.9 481.7,211.0 492.3,190.3 502.9,198.0 513.5,205.6 524.1,185.7 534.7,189.5 545.3,214.1 555.9,207.2 566.5,191.8 577.1,212.5 587.7,230.9 598.4,249.3 609.0,236.3 619.6,227.1 630.2,237.1 640.8,240.4 651.4,221.5 662.0,226.8 672.6,253.6 683.2,266.6 693.8,261.3 704.4,256.7 715.0,255.1 725.6,268.9 736.2,239.8 746.8,244.4 757.5,265.9 768.1,264.7 778.7,232.1 789.3,242.9 799.9,253.6 810.5,270.4"/>
</g>
<g class="p">
<polyline stroke="#0ab45f" points="237.7,560.5 248.3,552.5 258.9,519.4 269.6,553.9 280.2,560.5"/>
<polyline stroke="#c8850a" points="280.2,557.9 290.8,539.3 301.4,537.0 312.0,514.5 322.6,552.8 333.2,556.5 343.8,560.5"/>
<polyline stroke="#0ab45f" points="280.2,560.5 290.8,557.5 301.4,536.6 312.0,555.2 322.6,559.2 333.2,560.5"/>
<polyline stroke="#0a4cd1" points="312.0,560.5 322.6,556.5 333.2,556.5 343.8,560.5"/>
<polyline stroke="#0ab47c" points="365.0,560.5 375.6,552.8 386.2,516.8 396.8,536.6 407.4,206.7 418.0,560.5"/>
<polyline stroke="#0a26d1" points="375.6,560.5 386.2,544.6 396.8,557.9 407.4,365.7 418.0,560.5"/>
<polyline stroke="#be391c" points="396.8,557.9 407.4,534.3 418.0,544.6 428.6,535.3 439.3,560.5"/>
<polyline stroke="#c84c0a" points="418.0,560.5 428.6,412.1 439.3,520.8 449.9,560.5"/>
<polyline stroke="#c8be0a" points="418.0,556.5 428.6,454.1 439.3,548.6 449.9,560.5"/>
<polyline stroke="#0ab4b4" points="407.4,560.5 418.0,499.6 428.6,544.6 439.3,514.1 449.9,560.5"/>
<polyline stroke="#0ab4be" points="418.0,547.2 428.6,486.6 439.3,486.6 449.9,553.9 460.5,560.5"/>
<polyline stroke="#c8ab0a" points="407.4,560.5 418.0,551.2 428.6,555.2 439.3,560.5"/>
<polyline stroke="#981313" points="439.3,560.5 449.9,447.1 460.5,516.1 471.1,560.5"/>
<polyline stroke="#0a4cd1" points="439.3,552.5 449.9,518.1 460.5,446.6 471.1,549.9 481.7,560.5"/>
<polyline stroke="#0a7cd1" points="439.3,560.5 449.9,531.4 460.5,454.5 471.1,555.2 481.7,560.5"/>
<polyline stroke="#0abe1c" points="439.3,560.5 449.9,544.6 460.5,483.1 471.1,486.6 481.7,557.9 492.3,560.5"/>
<polyline stroke="#be391c" points="439.3,560.5 449.9,534.0 460.5,522.1 471.1,528.7 481.7,556.5 492.3,560.5"/>
<polyline stroke="#c8980a" points="449.9,560.5 460.5,535.3 471.1,555.2 481.7,560.5"/>
<polyline stroke="#ab2626" points="471.1,560.5 481.7,522.1 492.3,532.7 502.9,498.2 513.5,534.0 524.1,556.5 534.7,560.5"/>
<polyline stroke="#0ab4be" points="492.3,552.5 502.9,341.9 513.5,534.0 524.1,560.5"/>
<polyline stroke="#0ab47c" points="492.3,557.9 502.9,348.5 513.5,553.9 524.1,560.5"/>
<polyline stroke="#0ab456" points="492.3,560.5 502.9,520.8 513.5,492.9 524.1,553.9 534.7,560.5"/>
<polyline stroke="#0abe1c" points="513.5,560.5 524.1,519.4 534.7,557.9 545.3,560.5"/>
<polyline stroke="#c8ab0a" points="492.3,552.5 502.9,519.4 513.5,548.6 524.1,560.5"/>
<polyline stroke="#c8720a" points="492.3,556.5 502.9,528.7 513.5,553.9 524.1,560.5"/>
<polyline stroke="#0a4cd1" points="502.9,560.5 513.5,534.0 524.1,556.5 534.7,560.5"/>
<polyline stroke="#0ab47c" points="524.1,560.5 534.7,543.3 545.3,555.2 555.9,560.5"/>
<polyline stroke="#0aa2c8" points="534.7,560.5 545.3,549.9 555.9,556.5 566.5,560.5"/>
<polyline stroke="#0a26d1" points="534.7,560.5 545.3,543.3 555.9,503.1 566.5,538.0 577.1,560.5"/>
<polyline stroke="#ab2626" points="534.7,560.5 545.3,540.6 555.9,541.3 566.5,552.5 577.1,560.5"/>
<polyline stroke="#be391c" points="566.5,560.5 577.1,544.6 587.7,500.9 598.4,553.9 609.0,560.5"/>
<polyline stroke="#0abe1c" points="566.5,557.9 577.1,473.1 587.7,494.2 598.4,557.9 609.0,560.5"/>
<polyline stroke="#c8980a" points="577.1,560.5 587.7,549.9 598.4,520.8 609.0,560.5"/>
<polyline stroke="#c8720a" points="577.1,556.5 587.7,538.0 598.4,536.6 609.0,560.5"/>
<polyline stroke="#0a98d1" points="587.7,560.5 598.4,545.9 609.0,462.4 619.6,536.6 630.2,560.5"/>
<polyline stroke="#0aa2c8" points="577.1,560.5 587.7,542.0 598.4,552.5 609.0,560.5"/>
<polyline stroke="#be391c" points="609.0,560.5 619.6,556.5 630.2,488.2 640.8,500.1 651.4,520.8 662.0,534.0 672.6,552.5 683.2,560.5"/>
<polyline stroke="#981313" points="619.6,560.5 630.2,552.5 640.8,522.1 651.4,552.5 662.0,560.5"/>
<polyline stroke="#0ab439" points="609.0,560.5 619.6,544.6 630.2,522.1 640.8,531.4 651.4,557.9 662.0,560.5"/>
<polyline stroke="#c8be0a" points="619.6,560.5 630.2,531.4 640.8,552.5 651.4,560.5"/>
<polyline stroke="#0ab45f" points="619.6,555.2 630.2,532.7 640.8,528.7 651.4,556.5 662.0,560.5"/>
<polyline stroke="#0ab4b4" points="619.6,552.5 630.2,544.6 640.8,548.6 651.4,553.9 662.0,560.5"/>
<polyline stroke="#0abe1c" points="640.8,552.5 651.4,524.1 662.0,557.9 672.6,560.5"/>
<polyline stroke="#0ac80a" points="651.4,560.5 662.0,526.0 672.6,514.1 683.2,559.2 693.8,560.5"/>
<polyline stroke="#c8850a" points="651.4,557.9 662.0,508.2 672.6,552.5 683.2,560.5"/>
<polyline stroke="#c8ab0a" points="651.4,552.5 662.0,547.2 672.6,556.5 683.2,560.5"/>
<polyline stroke="#0ab4b4" points="662.0,557.9 672.6,500.1 683.2,553.9 693.8,560.5"/>
<polyline stroke="#0a72d1" points="662.0,556.5 672.6,536.6 683.2,555.2 693.8,560.5"/>
<polyline stroke="#0a7cd1" points="672.6,560.5 683.2,553.9 693.8,508.2 704.4,552.5 715.0,560.5"/>
<polyline stroke="#0a72d1" points="693.8,560.5 704.4,528.0 715.0,538.0 725.6,557.9 736.2,560.5"/>
<polyline stroke="#be391c" points="672.6,560.5 683.2,555.2 693.8,543.3 704.4,556.5 715.0,532.7 725.6,544.6 736.2,560.5"/>
<polyline stroke="#981313" points="704.4,556.5 715.0,397.5 725.6,485.0 736.2,560.5"/>
<polyline stroke="#0aa2c8" points="704.4,557.9 715.0,461.1 725.6,514.1 736.2,560.5"/>
<polyline stroke="#0abe1c" points="704.4,557.9 715.0,503.1 725.6,524.1 736.2,560.5"/>
<polyline stroke="#c8720a" points="704.4,555.2 715.0,548.6 725.6,535.3 736.2,560.5"/>
<polyline stroke="#c8980a" points="704.4,557.9 715.0,547.2 725.6,543.3 736.2,560.5"/>
<polyline stroke="#c8be0a" points="736.2,560.5 746.8,520.1 757.5,536.1 768.1,556.5 778.7,560.5"/>
<polyline stroke="#0abe1c" points="736.2,560.5 746.8,515.5 757.5,522.1 768.1,556.5 778.7,560.5"/>
<polyline stroke="#c8720a" points="736.2,560.5 746.8,530.0 757.5,510.1 768.1,553.9 778.7,560.5"/>
<polyline stroke="#0ab45f" points="736.2,560.5 746.8,552.5 757.5,524.1 768.1,559.2 778.7,560.5"/>
<polyline stroke="#c85f0a" points="736.2,560.5 746.8,540.6 757.5,536.1 768.1,559.2"/>
<polyline stroke="#ab2626" points="757.5,560.5 768.1,530.0 778.7,502.2 789.3,548.6 799.9,520.8 810.5,522.1"/>
<polyline stroke="#c8ab0a" points="778.7,560.5 789.3,315.4 799.9,556.5 810.5,552.5"/>
<polyline stroke="#c8be0a" points="778.7,560.5 789.3,552.5 799.9,498.2 810.5,469.1"/>
<polyline stroke="#0ab439" points="789.3,560.5 799.9,424.0 810.5,520.8"/>
<polyline stroke="#0abe1c" points="789.3,556.5 799.9,483.1 810.5,516.8"/>
<polyline stroke="#0ab47c" points="789.3,560.5 799.9,528.0 810.5,544.6"/>
<polyline stroke="#c8850a" points="778.7,560.5 789.3,549.9 799.9,542.0 810.5,553.9"/>
<polyline stroke="#c85f0a" points="778.7,560.5 789.3,543.3 799.9,548.6 810.5,547.2"/>
<polyline stroke="#0a72d1" points="778.7,560.5 789.3,553.9 799.9,555.2 810.5,557.9"/>
</g>
<g class="th">
<polyline stroke="#0a0aff" stroke-width="3.0" points="184.7,560.5 195.3,560.5 205.9,560.5 216.5,560.5 227.1,560.5 237.7,560.5 248.3,560.5 258.9,560.5 269.6,560.5 280.2,560.5 290.8,560.5 301.4,560.5 312.0,560.5 322.6,560.5 333.2,560.5 343.8,560.5 354.4,560.5 365.0,560.5 375.6,560.5 386.2,560.5 396.8,560.5 407.4,560.5 418.0,558.5 428.6,552.2 439.3,558.5 449.9,554.1 460.5,559.2 471.1,560.5 481.7,560.5 492.3,560.5 502.9,560.5 513.5,560.5 524.1,560.5 534.7,560.5 545.3,560.5 555.9,553.1 566.5,559.2 577.1,558.5 587.7,558.5 598.4,554.1 609.0,556.5 619.6,560.5 630.2,556.5 640.8,555.2 651.4,560.5 662.0,560.5 672.6,560.5 683.2,560.5 693.8,560.5 704.4,560.5 715.0,556.1 725.6,560.5 736.2,560.5 746.8,555.2 757.5,547.2 768.1,558.5 778.7,560.5 789.3,560.5 799.9,560.5 810.5,560.5"/>
<polyline stroke="#f2f2f2" stroke-width="2.8" points="184.7,560.5 195.3,560.5 205.9,560.5 216.5,560.5 227.1,560.5 237.7,560.5 248.3,560.5 258.9,560.5 269.6,560.5 280.2,560.5 290.8,560.5 301.4,560.5 312.0,560.5 322.6,559.8 333.2,559.2 343.8,560.5 354.4,560.5 365.0,560.5 375.6,560.5 386.2,560.5 396.8,559.2 407.4,541.2 418.0,551.2 428.6,547.6 439.3,552.2 449.9,549.1 460.5,545.1 471.1,554.1 481.7,557.1 492.3,556.5 502.9,538.1 513.5,554.1 524.1,558.1 534.7,558.5 545.3,557.2 555.9,555.7 566.5,558.1 577.1,556.1 587.7,554.1 598.4,557.1 609.0,556.1 619.6,555.7 630.2,551.2 640.8,554.1 651.4,556.5 662.0,555.2 672.6,554.1 683.2,557.1 693.8,557.9 704.4,557.2 715.0,547.2 725.6,553.1 736.2,558.1 746.8,555.7 757.5,554.1 768.1,557.1 778.7,557.9 789.3,552.2 799.9,548.0 810.5,551.2"/>
<polyline stroke="#00e000" stroke-width="3.0" points="184.7,560.5 195.3,560.5 205.9,560.5 216.5,560.5 227.1,560.5 237.7,560.5 248.3,560.5 258.9,560.5 269.6,559.8 280.2,560.5 290.8,560.5 301.4,560.5 312.0,560.5 322.6,557.9 333.2,556.5 343.8,559.8 354.4,560.5 365.0,560.5 375.6,560.5 386.2,560.5 396.8,560.5 407.4,560.5 418.0,560.5 428.6,560.5 439.3,560.5 449.9,551.2 460.5,550.2 471.1,558.1 481.7,560.5 492.3,558.1 502.9,555.7 513.5,559.2 524.1,560.5 534.7,560.5 545.3,560.5 555.9,560.5 566.5,558.1 577.1,501.1 587.7,531.4 598.4,559.2 609.0,560.5 619.6,560.5 630.2,560.5 640.8,560.5 651.4,558.5 662.0,496.1 672.6,556.5 683.2,560.5 693.8,560.5 704.4,560.5 715.0,560.5 725.6,560.5 736.2,560.5 746.8,560.5 757.5,560.5 768.1,560.5 778.7,560.5 789.3,510.5 799.9,510.5 810.5,543.3"/>
</g>
<rect x="163.5" y="30.5" width="647.0" height="530.0" fill="none" stroke="#e8e8e8" stroke-width="1"/>
<g stroke="#f0f0f0" stroke-width="1">
<line x1="807.1" y1="547.5" x2="810.5" y2="547.5"/>
<line x1="805.2" y1="533.5" x2="810.5" y2="533.5"/>
<line x1="807.1" y1="520.5" x2="810.5" y2="520.5"/>
<line x1="805.2" y1="507.5" x2="810.5" y2="507.5"/>
<line x1="807.1" y1="494.5" x2="810.5" y2="494.5"/>
<line x1="805.2" y1="480.5" x2="810.5" y2="480.5"/>
<line x1="807.1" y1="467.5" x2="810.5" y2="467.5"/>
<line x1="805.2" y1="454.5" x2="810.5" y2="454.5"/>
<line x1="807.1" y1="441.5" x2="810.5" y2="441.5"/>
<line x1="805.2" y1="427.5" x2="810.5" y2="427.5"/>
<line x1="807.1" y1="414.5" x2="810.5" y2="414.5"/>
<line x1="805.2" y1="401.5" x2="810.5" y2="401.5"/>
<line x1="807.1" y1="388.5" x2="810.5" y2="388.5"/>
<line x1="805.2" y1="374.5" x2="810.5" y2="374.5"/>
<line x1="807.1" y1="361.5" x2="810.5" y2="361.5"/>
<line x1="805.2" y1="348.5" x2="810.5" y2="348.5"/>
<line x1="807.1" y1="335.5" x2="810.5" y2="335.5"/>
<line x1="805.2" y1="321.5" x2="810.5" y2="321.5"/>
<line x1="807.1" y1="308.5" x2="810.5" y2="308.5"/>
<line x1="805.2" y1="295.5" x2="810.5" y2="295.5"/>
<line x1="807.1" y1="282.5" x2="810.5" y2="282.5"/>
<line x1="805.2" y1="268.5" x2="810.5" y2="268.5"/>
<line x1="807.1" y1="255.5" x2="810.5" y2="255.5"/>
<line x1="805.2" y1="242.5" x2="810.5" y2="242.5"/>
<line x1="807.1" y1="229.5" x2="810.5" y2="229.5"/>
<line x1="805.2" y1="215.5" x2="810.5" y2="215.5"/>
<line x1="807.1" y1="202.5" x2="810.5" y2="202.5"/>
<line x1="805.2" y1="189.5" x2="810.5" y2="189.5"/>
<line x1="807.1" y1="176.5" x2="810.5" y2="176.5"/>
<line x1="805.2" y1="162.5" x2="810.5" y2="162.5"/>
<line x1="807.1" y1="149.5" x2="810.5" y2="149.5"/>
<line x1="805.2" y1="136.5" x2="810.5" y2="136.5"/>
<line x1="807.1" y1="123.5" x2="810.5" y2="123.5"/>
<line x1="805.2" y1="109.5" x2="810.5" y2="109.5"/>
<line x1="807.1" y1="96.5" x2="810.5" y2="96.5"/>
<line x1="805.2" y1="83.5" x2="810.5" y2="83.5"/>
<line x1="807.1" y1="70.5" x2="810.5" y2="70.5"/>
<line x1="805.2" y1="56.5" x2="810.5" y2="56.5"/>
<line x1="807.1" y1="43.5" x2="810.5" y2="43.5"/>
</g>
<text class="yk" x="153.0" y="563" text-anchor="end">-10</text>
<text class="yk" x="153.0" y="504" text-anchor="end">-5</text>
<text class="yk" x="153.0" y="445" text-anchor="end">0</text>
<text class="yk" x="153.0" y="386" text-anchor="end">5</text>
<text class="yk" x="153.0" y="327" text-anchor="end">10</text>
<text class="yk" x="153.0" y="269" text-anchor="end">15</text>
<text class="yk" x="153.0" y="210" text-anchor="end">20</text>
<text class="yk" x="153.0" y="151" text-anchor="end">25</text>
<text class="yk" x="153.0" y="92" text-anchor="end">30</text>
<text class="yk" x="153.0" y="33" text-anchor="end">35</text>
<text class="yk" x="817.2" y="563">0</text>
<text class="yk" x="817.2" y="430">10</text>
<text class="yk" x="817.2" y="298">20</text>
<text class="yk" x="817.2" y="165">30</text>
<text class="yk" x="817.2" y="33">40</text>
 <text class="xk" x="162.3" y="577" text-anchor="middle">23Jun 00z</text>
 <text class="xk" x="247.2" y="577" text-anchor="middle">25Jun 00z</text>
 <text class="xk" x="332.0" y="577" text-anchor="middle">27Jun 00z</text>
 <text class="xk" x="416.9" y="577" text-anchor="middle">29Jun 00z</text>
 <text class="xk" x="501.7" y="577" text-anchor="middle">01Jul 00z</text>
 <text class="xk" x="586.6" y="577" text-anchor="middle">03Jul 00z</text>
 <text class="xk" x="671.4" y="577" text-anchor="middle">05Jul 00z</text>
 <text class="xk" x="756.3" y="577" text-anchor="middle">07Jul 00z</text>
<text class="al" x="486.4" y="592.6" text-anchor="middle">Date (UTC)</text>
<text class="al" transform="translate(135.2,295.7) rotate(-90)" text-anchor="middle">850 hPa Temp. (°C)</text>
<text class="ar" transform="translate(843.0,296.4) rotate(-90)" text-anchor="middle">Niederschlag (mm)</text>
<text class="ttl" x="133.6" y="17.4" xml:space="preserve" style="white-space:pre">Miskolc  (HU)  850 hPa Temp. &amp; Niederschlag | Thu, 23Jun2022 06Z</text>
<text class="big" x="120.3" y="603.5">GFS Ensemble, 48N, 21E</text>
<text class="big" x="649.5" y="603.5">Wetterzentrale.de</text>
<g class="lg">
<line x1="-3.3" y1="41.0" x2="7.8" y2="41.0" stroke="#0a26d1" stroke-width="2"/>
<text x="7.9" y="43">P1</text>
<line x1="53.0" y1="41.0" x2="64.0" y2="41.0" stroke="#0a4cd1" stroke-width="2"/>
<text x="64.1" y="43">P2</text>
<line x1="-3.3" y1="56.0" x2="7.8" y2="56.0" stroke="#0a72d1" stroke-width="2"/>
<text x="7.9" y="58">P3</text>
<line x1="53.0" y1="56.0" x2="64.0" y2="56.0" stroke="#0a98d1" stroke-width="2"/>
<text x="64.1" y="58">P4</text>
<line x1="-3.3" y1="71.0" x2="7.8" y2="71.0" stroke="#0ab4be" stroke-width="2"/>
<text x="7.9" y="73">P5</text>
<line x1="53.0" y1="71.0" x2="64.0" y2="71.0" stroke="#0ab47c" stroke-width="2"/>
<text x="64.1" y="73">P6</text>
<line x1="-3.3" y1="86.0" x2="7.8" y2="86.0" stroke="#0ab456" stroke-width="2"/>
<text x="7.9" y="88">P7</text>
<line x1="53.0" y1="86.0" x2="64.0" y2="86.0" stroke="#0ab439" stroke-width="2"/>
<text x="64.1" y="88">P8</text>
<line x1="-3.3" y1="101.0" x2="7.8" y2="101.0" stroke="#0abe1c" stroke-width="2"/>
<text x="7.9" y="103">P9</text>
<line x1="53.0" y1="101.0" x2="64.0" y2="101.0" stroke="#0ac80a" stroke-width="2"/>
<text x="64.1" y="103">P10</text>
<line x1="-3.3" y1="116.0" x2="7.8" y2="116.0" stroke="#c8be0a" stroke-width="2"/>
<text x="7.9" y="118">P11</text>
<line x1="53.0" y1="116.0" x2="64.0" y2="116.0" stroke="#c8ab0a" stroke-width="2"/>
<text x="64.1" y="118">P12</text>
<line x1="-3.3" y1="131.0" x2="7.8" y2="131.0" stroke="#c8980a" stroke-width="2"/>
<text x="7.9" y="133">P13</text>
<line x1="53.0" y1="131.0" x2="64.0" y2="131.0" stroke="#c8850a" stroke-width="2"/>
<text x="64.1" y="133">P14</text>
<line x1="-3.3" y1="146.0" x2="7.8" y2="146.0" stroke="#c8720a" stroke-width="2"/>
<text x="7.9" y="148">P15</text>
<line x1="53.0" y1="146.0" x2="64.0" y2="146.0" stroke="#c85f0a" stroke-width="2"/>
<text x="64.1" y="148">P16</text>
<line x1="-3.3" y1="161.0" x2="7.8" y2="161.0" stroke="#c84c0a" stroke-width="2"/>
<text x="7.9" y="163">P17</text>
<line x1="53.0" y1="161.0" x2="64.0" y2="161.0" stroke="#be391c" stroke-width="2"/>
<text x="64.1" y="163">P18</text>
<line x1="-3.3" y1="176.0" x2="7.8" y2="176.0" stroke="#ab2626" stroke-width="2"/>
<text x="7.9" y="178">P19</text>
<line x1="53.0" y1="176.0" x2="64.0" y2="176.0" stroke="#981313" stroke-width="2"/>
<text x="64.1" y="178">P20</text>
<line x1="-3.3" y1="191.0" x2="7.8" y2="191.0" stroke="#0a4cd1" stroke-width="2"/>
<text x="7.9" y="193">P21</text>
<line x1="53.0" y1="191.0" x2="64.0" y2="191.0" stroke="#0a7cd1" stroke-width="2"/>
<text x="64.1" y="193">P22</text>
<line x1="-3.3" y1="206.0" x2="7.8" y2="206.0" stroke="#0aa2c8" stroke-width="2"/>
<text x="7.9" y="208">P23</text>
<line x1="53.0" y1="206.0" x2="64.0" y2="206.0" stroke="#0ab4b4" stroke-width="2"/>
<text x="64.1" y="208">P24</text>
<line x1="-3.3" y1="221.0" x2="7.8" y2="221.0" stroke="#0ab47c" stroke-width="2"/>
<text x="7.9" y="223">P25</text>
<line x1="53.0" y1="221.0" x2="64.0" y2="221.0" stroke="#0ab45f" stroke-width="2"/>
<text x="64.1" y="223">P26</text>
<line x1="-3.3" y1="236.0" x2="7.8" y2="236.0" stroke="#0ab439" stroke-width="2"/>
<text x="7.9" y="238">P27</text>
<line x1="53.0" y1="236.0" x2="64.0" y2="236.0" stroke="#0abe1c" stroke-width="2"/>
<text x="64.1" y="238">P28</text>
<line x1="-3.3" y1="251.0" x2="7.8" y2="251.0" stroke="#0ac80a" stroke-width="2"/>
<text x="7.9" y="253">P29</text>
<line x1="53.0" y1="251.0" x2="64.0" y2="251.0" stroke="#c8be0a" stroke-width="2"/>
<text x="64.1" y="253">P30</text>
<line x1="-3.3" y1="267" x2="7.8" y2="267" stroke="#0a0aff" stroke-width="2"/><text x="7.9" y="268.6">Control</text>
<line x1="53" y1="267" x2="64" y2="267" stroke="#fff" stroke-width="2.3"/><text x="64.1" y="268.6">Ens. mean</text>
<line x1="53" y1="293" x2="64" y2="293" stroke="#f04040" stroke-width="2.2"/><text x="64.1" y="296.6">1981-2010</text><text x="64.1" y="307.4">mean</text>
<line x1="-3.3" y1="307" x2="7.8" y2="307" stroke="#00e000" stroke-width="2"/><text x="7.9" y="309.0">Oper</text>
</g>
</svg></body></html>
